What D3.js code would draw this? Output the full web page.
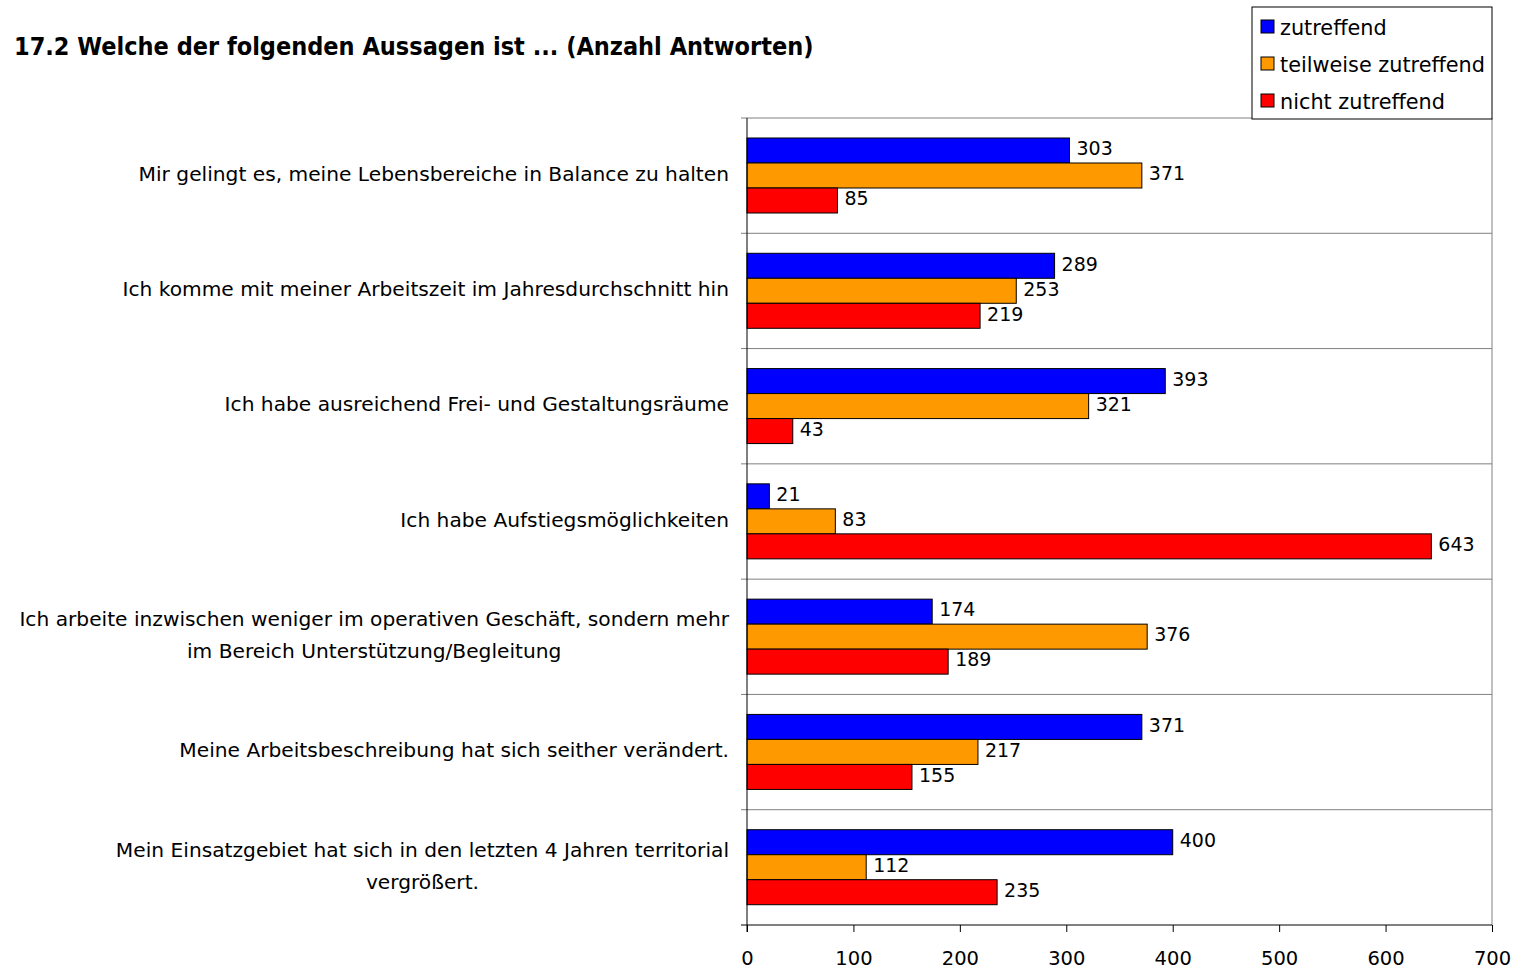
<!DOCTYPE html>
<html>
<head>
<meta charset="utf-8">
<script src="https://cdn.jsdelivr.net/npm/d3@7"></script>
<style>
  body { margin: 0; background: #fff; }
  svg text { font-family: "DejaVu Sans", sans-serif; fill: #000; }
  svg text.title { font-family: "DejaVu Sans Condensed", "DejaVu Sans", sans-serif; }
</style>
</head>
<body>
<svg id="chart"></svg>
<script>
const width = 1513;
const height = 970;

// data
const statements = [
  ["Mir gelingt es, meine Lebensbereiche in Balance zu halten"],
  ["Ich komme mit meiner Arbeitszeit im Jahresdurchschnitt hin"],
  ["Ich habe ausreichend Frei- und Gestaltungsräume"],
  ["Ich habe Aufstiegsmöglichkeiten"],
  ["Ich arbeite inzwischen weniger im operativen Geschäft, sondern mehr", "im Bereich Unterstützung/Begleitung"],
  ["Meine Arbeitsbeschreibung hat sich seither verändert."],
  ["Mein Einsatzgebiet hat sich in den letzten 4 Jahren territorial", "vergrößert."]
];
const seriesNames = ["zutreffend", "teilweise zutreffend", "nicht zutreffend"];
const zutreffend = [303, 289, 393, 21, 174, 371, 400];
const teilweise = [371, 253, 321, 83, 376, 217, 112];
const nicht = [85, 219, 43, 643, 189, 155, 235];
const xTicks = [0, 100, 200, 300, 400, 500, 600, 700];
const colors = ["#0000ff", "#ff9900", "#ff0000"];

const seriesValues = [zutreffend, teilweise, nicht];

const margin = { top: 118, right: 21, bottom: 45, left: 747 };

const svg = d3.select("#chart").attr("width", width).attr("height", height);

//title
svg.append("text")
  .attr("class", "title")
  .attr("x", 14)
  .attr("y", 55)
  .attr("font-size", 25)
  .attr("font-weight", "bold")
  .text("17.2 Welche der folgenden Aussagen ist ... (Anzahl Antworten)");

const x = d3.scaleLinear().domain([0, 700]).range([margin.left, width - margin.right]);
const y = d3.scaleBand().domain(d3.range(statements.length)).range([margin.top, height - margin.bottom]);
const inner = d3.scaleBand().domain(d3.range(3)).range([20, 20 + 75]);

// frame + separators
svg.append("line")
  .attr("x1", margin.left - 6).attr("x2", x(700))
  .attr("y1", margin.top).attr("y2", margin.top)
  .attr("stroke", "#808080");
svg.append("line")
  .attr("x1", x(700)).attr("x2", x(700))
  .attr("y1", margin.top).attr("y2", y.range()[1])
  .attr("stroke", "#808080");
svg.selectAll("line.sep")
  .data(d3.range(1, statements.length))
  .enter()
  .append("line")
  .attr("class", "sep")
  .attr("x1", margin.left - 6).attr("x2", x(700))
  .attr("y1", (d) => y(d)).attr("y2", (d) => y(d))
  .attr("stroke", "#808080");

// bars
const group = svg.selectAll("g.group")
  .data(statements)
  .enter()
  .append("g")
  .attr("class", "group")
  .attr("transform", (d, i) => "translate(0," + y(i) + ")");

group.each(function (d, i) {
  const g = d3.select(this);
  seriesValues.forEach((vals, s) => {
    g.append("rect")
      .attr("x", x(0))
      .attr("y", inner(s))
      .attr("width", x(vals[i]) - x(0))
      .attr("height", inner.bandwidth())
      .attr("fill", colors[s])
      .attr("stroke", "#000")
      .attr("stroke-width", 1);
    g.append("text")
      .attr("x", x(vals[i]) + 7)
      .attr("y", inner(s) + inner.bandwidth() / 2 - 2)
      .attr("dy", "0.36em")
      .attr("font-size", 19)
      .text(vals[i]);
  });
  // category label
  const lines = d.length;
  const lh = 32;
  g.append("text")
    .attr("font-size", 20.2)
    .selectAll("tspan")
    .data(d)
    .enter()
    .append("tspan")
    .attr("x", 729)
    .attr("text-anchor", lines > 1 ? "middle" : "end")
    .attr("y", (t, k) => y.bandwidth() / 2 - 2 + (k - (lines - 1) / 2) * lh)
    .attr("dy", "0.36em")
    .text((t) => t);
});

// center two-line labels on the first line
group.selectAll("text").filter(function () {
  return this.childNodes.length > 1;
}).each(function () {
  const t = d3.select(this);
  const w = d3.max(t.selectAll("tspan").nodes(), (n) => n.getComputedTextLength());
  t.selectAll("tspan").attr("x", 729 - w / 2);
});

// axes
const xAxis = d3.axisBottom(x).tickValues(xTicks).tickSize(7).tickPadding(19);
svg.append("g")
  .attr("transform", "translate(0," + y.range()[1] + ")")
  .call(xAxis)
  .call((g) => g.select(".domain").attr("stroke", "#000").attr("d", "M" + (x(0) - 6) + ",0H" + x(700)))
  .call((g) => g.selectAll("text").attr("font-size", 19.5).attr("font-family", null));

svg.append("line")
  .attr("x1", x(0)).attr("x2", x(0))
  .attr("y1", margin.top).attr("y2", y.range()[1] + 7)
  .attr("stroke", "#000");

// legend
const legend = svg.append("g").attr("transform", "translate(1252,7)");
legend.append("rect")
  .attr("width", 240).attr("height", 112)
  .attr("fill", "#fff").attr("stroke", "#000");
const item = legend.selectAll("g")
  .data(seriesNames)
  .enter()
  .append("g")
  .attr("transform", (d, i) => "translate(9," + (20 + i * 37) + ")");
item.append("rect")
  .attr("y", -7).attr("width", 13).attr("height", 13)
  .attr("fill", (d, i) => colors[i])
  .attr("stroke", "#000");
item.append("text")
  .attr("x", 19)
  .attr("dy", "0.36em")
  .attr("font-size", 20.8)
  .text((d) => d);
</script>
</body>
</html>
